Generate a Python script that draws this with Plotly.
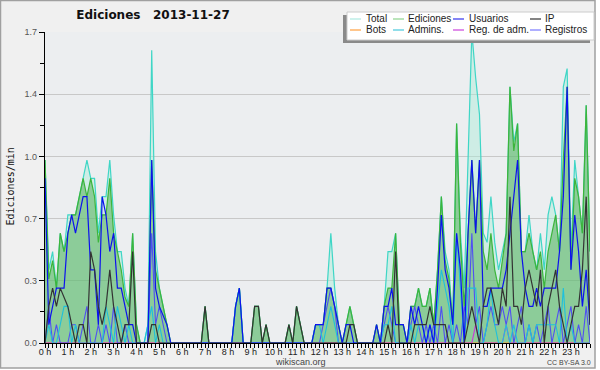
import numpy as np
import plotly.graph_objects as go

# ---------------- data (edits per minute, 10-minute bins, 00:00 .. 23:50) ----------------
hours = [h for h in range(24)]
hour_labels = [f"{h} h" for h in hours]
y_ticks = [0.0, 0.34, 0.68, 1.02, 1.36, 1.7]
y_tick_labels = ["0.0", "0.3", "0.7", "1.0", "1.4", "1.7"]

total = [
    1.0, 0.4, 0.5, 0.3, 0.6, 0.5, 0.7, 0.7, 0.7, 0.8, 0.9, 1.0,
    0.9, 0.9, 0.6, 0.8, 0.8, 1.0, 0.7, 0.5, 0.5, 0.3, 0.2, 0.6,
    0.1, 0.0, 0.0, 0.1, 1.6, 0.5, 0.3, 0.2, 0.1, 0.0, 0.0, 0.0,
    0.0, 0.0, 0.0, 0.0, 0.0, 0.0, 0.2, 0.0, 0.0, 0.0, 0.0, 0.0,
    0.0, 0.0, 0.2, 0.3, 0.0, 0.0, 0.0, 0.2, 0.2, 0.0, 0.1, 0.0,
    0.0, 0.0, 0.0, 0.0, 0.1, 0.0, 0.2, 0.1, 0.0, 0.0, 0.0, 0.1,
    0.1, 0.1, 0.3, 0.6, 0.3, 0.1, 0.0, 0.1, 0.2, 0.1, 0.0, 0.0,
    0.0, 0.0, 0.0, 0.1, 0.0, 0.2, 0.5, 0.5, 0.6, 0.1, 0.1, 0.0,
    0.2, 0.2, 0.3, 0.2, 0.2, 0.3, 0.1, 0.4, 0.8, 0.5, 0.4, 0.1,
    1.2, 0.6, 0.3, 1.0, 1.7, 1.45, 1.25, 0.6, 0.55, 0.8, 0.55, 0.4,
    0.5, 0.6, 1.4, 1.1, 1.2, 0.5, 0.5, 0.7, 0.5, 0.4, 0.6, 0.4,
    0.7, 0.8, 0.7, 0.5, 1.4, 1.5, 0.5, 1.0, 0.8, 0.6, 1.3, 0.5,
]
ediciones = [
    1.0, 0.35, 0.45, 0.3, 0.6, 0.5, 0.6, 0.7, 0.7, 0.8, 0.9, 0.8,
    0.9, 0.8, 0.55, 0.7, 0.7, 0.9, 0.6, 0.5, 0.4, 0.25, 0.2, 0.6,
    0.1, 0.0, 0.0, 0.0, 1.0, 0.4, 0.3, 0.2, 0.1, 0.0, 0.0, 0.0,
    0.0, 0.0, 0.0, 0.0, 0.0, 0.0, 0.2, 0.0, 0.0, 0.0, 0.0, 0.0,
    0.0, 0.0, 0.2, 0.3, 0.0, 0.0, 0.0, 0.2, 0.2, 0.0, 0.1, 0.0,
    0.0, 0.0, 0.0, 0.0, 0.1, 0.0, 0.2, 0.1, 0.0, 0.0, 0.0, 0.1,
    0.1, 0.1, 0.3, 0.3, 0.2, 0.1, 0.0, 0.1, 0.2, 0.1, 0.0, 0.0,
    0.0, 0.0, 0.0, 0.1, 0.0, 0.2, 0.3, 0.3, 0.6, 0.1, 0.1, 0.0,
    0.2, 0.2, 0.3, 0.2, 0.2, 0.3, 0.1, 0.4, 0.8, 0.45, 0.35, 0.1,
    1.2, 0.55, 0.2, 0.6, 1.0, 0.6, 1.0, 0.5, 0.4, 0.6, 0.4, 0.3,
    0.45, 0.6, 1.4, 1.05, 1.2, 0.5, 0.5, 0.6, 0.5, 0.4, 0.5, 0.3,
    0.5, 0.6, 0.7, 0.5, 1.0, 1.4, 0.4, 0.9, 0.8, 0.6, 1.3, 0.5,
]
usuarios = [
    0.9, 0.1, 0.2, 0.3, 0.3, 0.3, 0.6, 0.7, 0.6, 0.7, 0.8, 0.8,
    0.4, 0.4, 0.1, 0.8, 0.7, 0.5, 0.6, 0.3, 0.3, 0.2, 0.1, 0.1,
    0.0, 0.0, 0.0, 0.0, 1.0, 0.3, 0.2, 0.15, 0.1, 0.0, 0.0, 0.0,
    0.0, 0.0, 0.0, 0.0, 0.0, 0.0, 0.0, 0.0, 0.0, 0.0, 0.0, 0.0,
    0.0, 0.0, 0.2, 0.3, 0.0, 0.0, 0.0, 0.0, 0.0, 0.0, 0.0, 0.0,
    0.0, 0.0, 0.0, 0.0, 0.0, 0.0, 0.0, 0.0, 0.0, 0.0, 0.0, 0.1,
    0.1, 0.1, 0.3, 0.3, 0.2, 0.1, 0.0, 0.1, 0.1, 0.0, 0.0, 0.0,
    0.0, 0.0, 0.0, 0.1, 0.0, 0.2, 0.2, 0.3, 0.1, 0.1, 0.1, 0.0,
    0.2, 0.1, 0.2, 0.1, 0.0, 0.1, 0.0, 0.3, 0.7, 0.4, 0.3, 0.1,
    0.6, 0.4, 0.0, 0.6, 1.0, 0.6, 1.0, 0.2, 0.2, 0.3, 0.3, 0.3,
    0.3, 0.4, 0.6, 0.8, 1.0, 0.5, 0.3, 0.2, 0.2, 0.3, 0.2, 0.3,
    0.3, 0.3, 0.3, 0.5, 0.8, 1.4, 0.4, 0.7, 0.5, 0.2, 0.4, 0.1,
]
ip = [
    0.0, 0.2, 0.3, 0.2, 0.3, 0.25, 0.2, 0.1, 0.0, 0.1, 0.1, 0.0,
    0.5, 0.4, 0.2, 0.1, 0.2, 0.4, 0.2, 0.1, 0.0, 0.1, 0.1, 0.5,
    0.0, 0.0, 0.0, 0.0, 0.1, 0.1, 0.0, 0.0, 0.0, 0.0, 0.0, 0.0,
    0.0, 0.0, 0.0, 0.0, 0.0, 0.0, 0.2, 0.0, 0.0, 0.0, 0.0, 0.0,
    0.0, 0.0, 0.0, 0.0, 0.0, 0.0, 0.0, 0.2, 0.2, 0.0, 0.1, 0.0,
    0.0, 0.0, 0.0, 0.0, 0.1, 0.0, 0.2, 0.1, 0.0, 0.0, 0.0, 0.0,
    0.0, 0.0, 0.0, 0.0, 0.0, 0.0, 0.0, 0.0, 0.1, 0.1, 0.0, 0.0,
    0.0, 0.0, 0.0, 0.0, 0.0, 0.0, 0.1, 0.0, 0.5, 0.0, 0.0, 0.0,
    0.0, 0.1, 0.1, 0.1, 0.1, 0.2, 0.1, 0.1, 0.1, 0.1, 0.0, 0.0,
    0.0, 0.0, 0.0, 0.1, 0.2, 0.1, 0.0, 0.2, 0.3, 0.3, 0.2, 0.1,
    0.3, 0.2, 0.8, 0.2, 0.2, 0.1, 0.3, 0.4, 0.3, 0.2, 0.4, 0.0,
    0.2, 0.3, 0.4, 0.2, 0.1, 0.0, 0.1, 0.2, 0.2, 0.4, 0.8, 0.1,
]
admins = [
    0.0, 0.1, 0.0, 0.0, 0.1, 0.2, 0.2, 0.0, 0.1, 0.0, 0.0, 0.0,
    0.0, 0.0, 0.0, 0.0, 0.2, 0.1, 0.0, 0.2, 0.1, 0.0, 0.1, 0.0,
    0.0, 0.0, 0.0, 0.1, 0.2, 0.0, 0.1, 0.0, 0.0, 0.0, 0.0, 0.0,
    0.0, 0.0, 0.0, 0.0, 0.0, 0.0, 0.0, 0.0, 0.0, 0.0, 0.0, 0.0,
    0.0, 0.0, 0.2, 0.3, 0.0, 0.0, 0.0, 0.0, 0.0, 0.0, 0.0, 0.0,
    0.0, 0.0, 0.0, 0.0, 0.0, 0.0, 0.0, 0.0, 0.0, 0.0, 0.0, 0.1,
    0.1, 0.0, 0.1, 0.2, 0.1, 0.0, 0.0, 0.0, 0.0, 0.0, 0.0, 0.0,
    0.0, 0.0, 0.0, 0.0, 0.0, 0.1, 0.1, 0.2, 0.0, 0.0, 0.0, 0.0,
    0.1, 0.0, 0.1, 0.1, 0.0, 0.1, 0.0, 0.2, 0.4, 0.3, 0.2, 0.0,
    0.6, 0.3, 0.0, 0.3, 0.3, 0.3, 0.0, 0.0, 0.1, 0.3, 0.1, 0.0,
    0.0, 0.1, 0.0, 0.1, 0.0, 0.0, 0.0, 0.1, 0.0, 0.1, 0.1, 0.1,
    0.1, 0.1, 0.1, 0.0, 0.3, 0.0, 0.1, 0.0, 0.0, 0.0, 0.0, 0.0,
]
registros = [
    0.0, 0.2, 0.0, 0.1, 0.0, 0.0, 0.0, 0.1, 0.1, 0.0, 0.1, 0.2,
    0.0, 0.0, 0.1, 0.0, 0.1, 0.0, 0.2, 0.0, 0.0, 0.1, 0.0, 0.0,
    0.0, 0.0, 0.0, 0.0, 0.6, 0.1, 0.2, 0.1, 0.0, 0.0, 0.0, 0.0,
    0.0, 0.0, 0.0, 0.0, 0.0, 0.0, 0.0, 0.0, 0.0, 0.0, 0.0, 0.0,
    0.0, 0.0, 0.0, 0.0, 0.0, 0.0, 0.0, 0.0, 0.0, 0.0, 0.0, 0.0,
    0.0, 0.0, 0.0, 0.0, 0.0, 0.0, 0.0, 0.0, 0.0, 0.0, 0.0, 0.0,
    0.0, 0.1, 0.2, 0.3, 0.2, 0.0, 0.0, 0.0, 0.0, 0.0, 0.0, 0.0,
    0.0, 0.0, 0.0, 0.0, 0.0, 0.1, 0.2, 0.1, 0.0, 0.0, 0.0, 0.0,
    0.1, 0.2, 0.1, 0.0, 0.1, 0.0, 0.1, 0.0, 0.2, 0.0, 0.1, 0.0,
    0.1, 0.0, 0.2, 0.1, 0.6, 0.1, 0.2, 0.0, 0.1, 0.2, 0.1, 0.1,
    0.2, 0.1, 0.2, 0.0, 0.1, 0.2, 0.0, 0.1, 0.0, 0.1, 0.0, 0.1,
    0.2, 0.0, 0.1, 0.2, 0.0, 0.1, 0.2, 0.0, 0.1, 0.0, 0.2, 0.0,
]
reg_adm = [
    0.0, 0.0, 0.0, 0.0, 0.0, 0.0, 0.0, 0.0, 0.0, 0.0, 0.0, 0.0,
    0.0, 0.0, 0.0, 0.0, 0.0, 0.0, 0.0, 0.0, 0.0, 0.0, 0.0, 0.0,
    0.0, 0.0, 0.0, 0.0, 0.0, 0.0, 0.0, 0.0, 0.0, 0.0, 0.0, 0.0,
    0.0, 0.0, 0.0, 0.0, 0.0, 0.0, 0.0, 0.0, 0.0, 0.0, 0.0, 0.0,
    0.0, 0.0, 0.0, 0.0, 0.0, 0.0, 0.0, 0.0, 0.0, 0.0, 0.0, 0.0,
    0.0, 0.0, 0.0, 0.0, 0.0, 0.0, 0.0, 0.0, 0.0, 0.0, 0.0, 0.0,
    0.0, 0.0, 0.0, 0.0, 0.0, 0.0, 0.0, 0.0, 0.0, 0.0, 0.0, 0.0,
    0.0, 0.0, 0.0, 0.0, 0.0, 0.0, 0.0, 0.0, 0.0, 0.0, 0.0, 0.0,
    0.0, 0.0, 0.0, 0.0, 0.0, 0.0, 0.0, 0.0, 0.0, 0.0, 0.0, 0.0,
    0.0, 0.0, 0.0, 0.0, 0.0, 0.1, 0.0, 0.0, 0.0, 0.0, 0.0, 0.0,
    0.0, 0.1, 0.0, 0.0, 0.0, 0.0, 0.0, 0.0, 0.0, 0.0, 0.0, 0.0,
    0.0, 0.0, 0.0, 0.0, 0.0, 0.0, 0.0, 0.0, 0.0, 0.0, 0.0, 0.0,
]
bots = [
    0.0, 0.0, 0.0, 0.0, 0.0, 0.0, 0.0, 0.0, 0.0, 0.0, 0.0, 0.0,
    0.0, 0.0, 0.0, 0.0, 0.0, 0.0, 0.0, 0.0, 0.0, 0.0, 0.0, 0.0,
    0.0, 0.0, 0.0, 0.0, 0.0, 0.0, 0.0, 0.0, 0.0, 0.0, 0.0, 0.0,
    0.0, 0.0, 0.0, 0.0, 0.0, 0.0, 0.0, 0.0, 0.0, 0.0, 0.0, 0.0,
    0.0, 0.0, 0.0, 0.0, 0.0, 0.0, 0.0, 0.0, 0.0, 0.0, 0.0, 0.0,
    0.0, 0.0, 0.0, 0.0, 0.0, 0.0, 0.0, 0.0, 0.0, 0.0, 0.0, 0.0,
    0.0, 0.0, 0.0, 0.0, 0.0, 0.0, 0.0, 0.0, 0.0, 0.0, 0.0, 0.0,
    0.0, 0.0, 0.0, 0.0, 0.0, 0.0, 0.0, 0.0, 0.0, 0.0, 0.0, 0.0,
    0.0, 0.0, 0.0, 0.0, 0.0, 0.0, 0.0, 0.0, 0.0, 0.0, 0.0, 0.0,
    0.0, 0.0, 0.0, 0.0, 0.0, 0.0, 0.0, 0.0, 0.0, 0.0, 0.0, 0.0,
    0.0, 0.0, 0.0, 0.0, 0.0, 0.0, 0.0, 0.0, 0.0, 0.0, 0.0, 0.0,
    0.0, 0.0, 0.0, 0.0, 0.0, 0.0, 0.0, 0.0, 0.0, 0.0, 0.0, 0.0,
]

# time axis: 10-minute bins expressed in hours
x = np.arange(len(total)) / 6.0

# ---------------- figure ----------------
W, H = 600, 370
ML, MR, MT, MB = 45, 10, 32, 27
PW, PH = W - ML - MR, H - MT - MB


def px(v):
    return (v - ML) / PW


def py(v):
    return (H - MB - v) / PH


FONT = "Liberation Sans"
fig = go.Figure()

fig.add_trace(go.Scatter(x=x, y=total, mode="lines", fill="tozeroy",
                         fillcolor="rgba(170,236,216,0.45)",
                         line=dict(color="#3fd6c6", width=1.2), name="Total"))
fig.add_trace(go.Scatter(x=x, y=ediciones, mode="lines", fill="tozeroy",
                         fillcolor="rgba(60,165,60,0.45)",
                         line=dict(color="#3cb53c", width=1.2), name="Ediciones"))
fig.add_trace(go.Scatter(x=x, y=bots, mode="lines",
                         line=dict(color="#ff9933", width=1.1), name="Bots"))
fig.add_trace(go.Scatter(x=x, y=reg_adm, mode="lines",
                         line=dict(color="#cc33dd", width=1.1), name="Reg. de adm."))
fig.add_trace(go.Scatter(x=x, y=registros, mode="lines",
                         line=dict(color="#5050f2", width=1.1), name="Registros"))
fig.add_trace(go.Scatter(x=x, y=admins, mode="lines",
                         line=dict(color="#1fc0dc", width=1.1), name="Admins."))
fig.add_trace(go.Scatter(x=x, y=usuarios, mode="lines",
                         line=dict(color="#0c12ee", width=1.2), name="Usuarios"))
fig.add_trace(go.Scatter(x=x, y=ip, mode="lines",
                         line=dict(color="#333333", width=1.2), name="IP"))

shapes = [
    # canvas frame
    dict(type="rect", xref="paper", yref="paper", layer="below",
         x0=px(0.5), x1=px(595), y0=py(368), y1=py(0.5),
         fillcolor="#f0f0f0", line=dict(color="#a0a0a0", width=1.5)),
    # plot area
    dict(type="rect", xref="paper", yref="paper", layer="below",
         x0=0, x1=1, y0=0, y1=1, fillcolor="#eceef0", line=dict(width=0)),
    # legend shadow + box
    dict(type="rect", xref="paper", yref="paper", layer="above",
         x0=px(343), x1=px(590), y0=py(43), y1=py(15),
         fillcolor="#8a8a8a", line=dict(width=0)),
    dict(type="rect", xref="paper", yref="paper", layer="above",
         x0=px(347), x1=px(594), y0=py(40), y1=py(12),
         fillcolor="white", line=dict(color="#cccccc", width=1)),
]

annotations = []
legend_items = [
    ("Total", "#aeeae2", 350, 366, 19),
    ("Ediciones", "#8ed48e", 393, 408, 19),
    ("Usuarios", "#3535ee", 453, 469, 19),
    ("IP", "#333333", 530, 545, 19),
    ("Bots", "#ffa040", 350, 366, 30),
    ("Admins.", "#48c8dc", 393, 408, 30),
    ("Reg. de adm.", "#cc44dd", 453, 469, 30),
    ("Registros", "#7a7aff", 530, 545, 30),
]
for name, col, sx, tx, yy in legend_items:
    shapes.append(dict(type="line", xref="paper", yref="paper", layer="above",
                       x0=px(sx), x1=px(sx + 11), y0=py(yy), y1=py(yy),
                       line=dict(color=col, width=1.2)))
    annotations.append(dict(xref="paper", yref="paper", x=px(tx - 2), y=py(yy - 0.5),
                            xanchor="left", yanchor="middle", showarrow=False,
                            text=name, font=dict(family=FONT, size=10, color="#222222")))

annotations += [
    dict(xref="paper", yref="paper", x=px(9.5), y=py(187), textangle=-90,
         showarrow=False, xanchor="center", yanchor="middle",
         text="Ediciones/min", font=dict(family="DejaVu Sans Mono", size=10, color="#111111")),
    dict(xref="paper", yref="paper", x=px(300), y=py(361.5), showarrow=False,
         xanchor="center", yanchor="middle", text="wikiscan.org",
         font=dict(family=FONT, size=9, color="#444444")),
    dict(xref="paper", yref="paper", x=px(569), y=py(362.5), showarrow=False,
         xanchor="center", yanchor="middle", text="CC BY-SA 3.0",
         font=dict(family=FONT, size=7, color="#444444")),
]

fig.update_layout(
    width=W, height=H,
    margin=dict(l=ML, r=MR, t=MT, b=MB, autoexpand=False),
    paper_bgcolor="white",
    plot_bgcolor="rgba(0,0,0,0)",
    showlegend=False,
    title=dict(text="Ediciones\u00a0\u00a0 2013-11-27", x=153 / W, xref="container",
               xanchor="center", y=1 - 15 / H, yref="container", yanchor="middle",
               font=dict(family="DejaVu Sans", size=12, color="#111111", weight="bold")),
    shapes=shapes,
    annotations=annotations,
    xaxis=dict(range=[0, x[-1]], tickmode="array", tickvals=hours, ticktext=hour_labels,
               automargin=False,
               ticks="outside", ticklen=4, tickcolor="black", tickwidth=1,
               showline=True, linecolor="black", linewidth=1,
               showgrid=False, zeroline=False,
               tickfont=dict(family=FONT, size=9, color="#222222"),
               ticklabelstandoff=-4,
               minor=dict(dtick=1 / 6, tick0=0, ticks="outside", ticklen=4,
                          tickcolor="black", tickwidth=1, showgrid=False)),
    yaxis=dict(range=[0, 1.7], tickmode="array", tickvals=y_ticks, ticktext=y_tick_labels,
               automargin=False,
               ticks="outside", ticklen=5, tickcolor="black", tickwidth=1,
               showline=True, linecolor="black", linewidth=1.2,
               showgrid=True, gridcolor="#c8c8c8", gridwidth=1, zeroline=False,
               tickfont=dict(family=FONT, size=9, color="#555555"),
               minor=dict(tickvals=[0.17, 0.51, 0.85, 1.19, 1.53], ticks="outside",
                          ticklen=4, tickcolor="black", tickwidth=1, showgrid=False)),
)

fig.write_html("out.html",
               config={"displayModeBar": False},
               post_script="document.body.style.margin='0';document.body.style.padding='0';"
                           "document.body.style.overflow='hidden';")
